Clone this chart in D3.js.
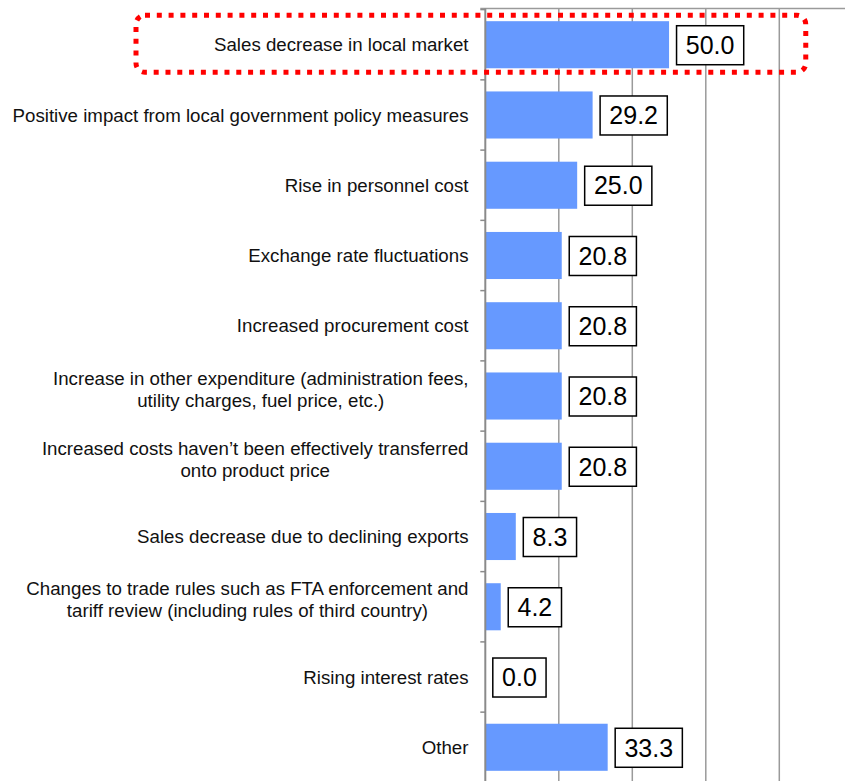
<!DOCTYPE html>
<html>
<head>
<meta charset="utf-8">
<script src="https://cdn.jsdelivr.net/npm/d3@7"></script>
<style>
  html, body { margin: 0; padding: 0; background: #fff; }
  svg { display: block; }
</style>
</head>
<body>
<svg id="chart" width="845" height="781"></svg>
<script>
const categories = [
  "Sales decrease in local market",
  "Positive impact from local government policy measures",
  "Rise in personnel cost",
  "Exchange rate fluctuations",
  "Increased procurement cost",
  "Increase in other expenditure (administration fees,\nutility charges, fuel price, etc.)",
  "Increased costs haven\u2019t been effectively transferred\nonto product price",
  "Sales decrease due to declining exports",
  "Changes to trade rules such as FTA enforcement and\ntariff review (including rules of third country)",
  "Rising interest rates",
  "Other"
];
const values = [50.0, 29.2, 25.0, 20.8, 20.8, 20.8, 20.8, 8.3, 4.2, 0.0, 33.3];
const gridTicks = [20, 40, 60, 80, 100];
const highlighted = ["Sales decrease in local market"];

const W = 845, H = 781;
const plot = { left: 485.3, top: 9.6, right: 852.8, bottom: 782.4 };
const FONT = "'Liberation Sans', Arial, Helvetica, sans-serif";

const svg = d3.select("#chart");

const x = d3.scaleLinear().domain([0, 100]).range([plot.left, plot.right]);
const y = d3.scaleBand().domain(categories).range([plot.top, plot.bottom]).paddingInner(0.33).paddingOuter(0.165);
const yb = d3.scaleBand().domain(categories).range([plot.top, plot.bottom]);

// grid lines
svg.append("g").selectAll("line").data(gridTicks).join("line")
  .attr("x1", d => x(d)).attr("x2", d => x(d))
  .attr("y1", plot.top - 1).attr("y2", H)
  .attr("stroke", "#9a9a9a").attr("stroke-width", 1.5);

// top border
svg.append("line")
  .attr("x1", plot.left - 5).attr("x2", W)
  .attr("y1", plot.top - 1).attr("y2", plot.top - 1)
  .attr("stroke", "#9a9a9a").attr("stroke-width", 1.5);

// bars
svg.append("g").selectAll("rect").data(values).join("rect")
  .attr("x", x(0))
  .attr("y", (d, i) => y(categories[i]))
  .attr("width", d => x(d) - x(0))
  .attr("height", y.bandwidth())
  .attr("fill", "#6699ff");

// y axis line + ticks (boundaries)
const yAxis = d3.axisLeft(yb).tickSize(0).tickFormat("");
const ag = svg.append("g").attr("transform", `translate(${plot.left},0)`).call(yAxis);
ag.select(".domain").attr("stroke", "#8a8a8a").attr("stroke-width", 2).attr("d", `M0,${plot.top - 1}V${H}`);
const bounds = categories.map(c => yb(c)).concat([plot.bottom]);
ag.selectAll(".bnd").data(bounds).join("line").attr("class", "bnd")
  .attr("x1", -5).attr("x2", 0).attr("y1", d => d).attr("y2", d => d)
  .attr("stroke", "#8a8a8a").attr("stroke-width", 1.5);

// category labels
const labelRight = 468.5;
const lg = svg.append("g").attr("font-family", FONT).attr("font-size", 18.7).attr("fill", "#111");
categories.forEach((c, i) => {
  const lines = c.split("\n");
  const cy = yb(c) + yb.bandwidth() / 2;
  const lineH = 22;
  const g = lg.append("g");
  const texts = lines.map((ln, k) => g.append("text")
    .attr("y", cy + (k - (lines.length - 1) / 2) * lineH - (lines.length > 1 ? 7 : 0))
    .attr("dy", "0.35em")
    .text(ln));
  const widths = texts.map(t => t.node().getComputedTextLength());
  const maxW = d3.max(widths);
  const center = labelRight - maxW / 2;
  texts.forEach(t => t.attr("x", center).attr("text-anchor", "middle"));
});

// value labels in boxes
const vg = svg.append("g").attr("font-family", FONT).attr("font-size", 25).attr("fill", "#000");
values.forEach((v, i) => {
  const c = categories[i];
  const cy = yb(c) + yb.bandwidth() / 2 + 0.5;
  const t = vg.append("text").text(v.toFixed(1)).attr("dy", "0.35em").attr("y", cy).attr("text-anchor", "middle");
  const tw = t.node().getComputedTextLength();
  const bw = tw + 18.5, bh = 39;
  const bx = x(v) + 7.5;
  vg.insert("rect", "text")
    .attr("x", bx).attr("y", cy - bh / 2).attr("width", bw).attr("height", bh)
    .attr("fill", "#fff").attr("stroke", "#000").attr("stroke-width", 1.5);
  t.attr("x", bx + bw / 2);
});
vg.selectAll("rect").lower();

// highlight dotted rounded rectangle
highlighted.forEach(c => {
  const top = y(c) - 6, bot = y(c) + y.bandwidth() + 4;
  svg.append("rect")
    .attr("x", 136).attr("y", top)
    .attr("width", x(87.2) - 136).attr("height", bot - top)
    .attr("rx", 9).attr("ry", 9)
    .attr("fill", "none").attr("stroke", "#ff0000").attr("stroke-width", 5)
    .attr("stroke-dasharray", "5 6.8");
});
</script>
</body>
</html>
